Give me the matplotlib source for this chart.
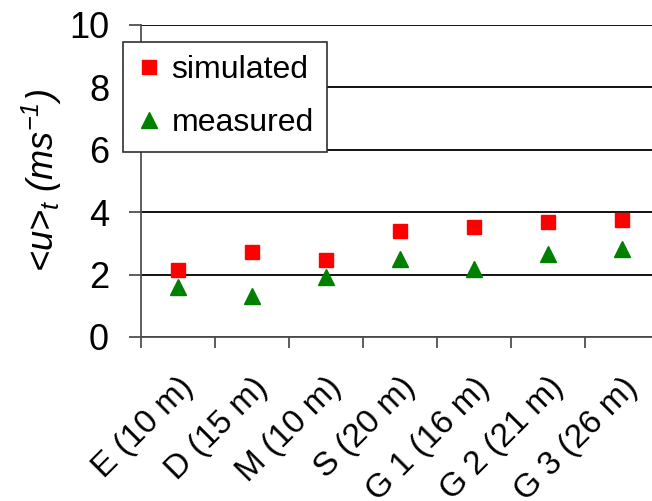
import numpy as np
import matplotlib
matplotlib.use('Agg')
import matplotlib.pyplot as plt

plt.rcParams['font.family'] = ['Liberation Sans', 'DejaVu Sans']
plt.rcParams['mathtext.fontset'] = 'custom'
plt.rcParams['mathtext.rm'] = 'Liberation Sans:italic'
plt.rcParams['mathtext.it'] = 'Liberation Sans:italic'

# 站点及高度
sites = ['E (10 m)', 'D (15 m)', 'M (10 m)', 'S (20 m)', 'G 1 (16 m)', 'G 2 (21 m)', 'G 3 (26 m)']
simulated = [2.16, 2.73, 2.46, 3.41, 3.53, 3.68, 3.75]
measured = [1.61, 1.31, 1.93, 2.49, 2.18, 2.65, 2.83]
y_ticks = [0, 2, 4, 6, 8, 10]

W, H = 652, 501
fig = plt.figure(figsize=(W / 100, H / 100), dpi=100)
# 坐标区位置（像素换算）
ax = fig.add_axes([141 / W, 1 - 337 / H, 518 / W, (337 - 25) / H])

x = np.arange(len(sites))
ax.plot(x, simulated, 's', color='#ff0000', markersize=10, label='simulated', zorder=3)
ax.plot(x, measured, '^', color='#008000', markersize=11, label='measured', zorder=3)

ax.set_xlim(-0.5, len(sites) - 0.5)
ax.set_ylim(0, 10)

# 网格线
ax.set_yticks(y_ticks)
ax.yaxis.grid(True, color='black', linewidth=1.3)
ax.set_axisbelow(True)

for s in ['top', 'right']:
    ax.spines[s].set_visible(False)
for s in ['left', 'bottom']:
    ax.spines[s].set_color('#505050')
    ax.spines[s].set_linewidth(1.3)

ax.tick_params(axis='y', direction='out', length=9, width=1.3, color='#505050',
               labelsize=26, pad=14)

# x 轴：刻度在类别边界，标签在类别中心
ax.set_xticks(np.arange(-0.5, len(sites)))
ax.set_xticklabels([])
ax.set_xticks(x, minor=True)
ax.set_xticklabels(sites, minor=True, rotation=45, ha='right', va='top',
                   rotation_mode='anchor', fontsize=24)
ax.tick_params(axis='x', which='major', direction='out', length=8, width=1.3, color='#505050')
ax.tick_params(axis='x', which='minor', length=0, pad=25)

ax.set_ylabel('<u>$_t$ (ms$^{\\mathrm{-1}}$)', fontsize=26, style='italic')
ax.yaxis.set_label_coords(-0.149, 0.5)

leg = ax.legend(loc='upper left', bbox_to_anchor=(123 / W, 1 - 42 / H),
                bbox_transform=fig.transFigure, borderaxespad=0, numpoints=1,
                fontsize=23, fancybox=False, framealpha=1, edgecolor='#303030',
                borderpad=0.42, labelspacing=0.72, handlelength=0.8, handletextpad=0.3)
leg.get_frame().set_linewidth(1.2)

plt.savefig('out.png', dpi=100)
